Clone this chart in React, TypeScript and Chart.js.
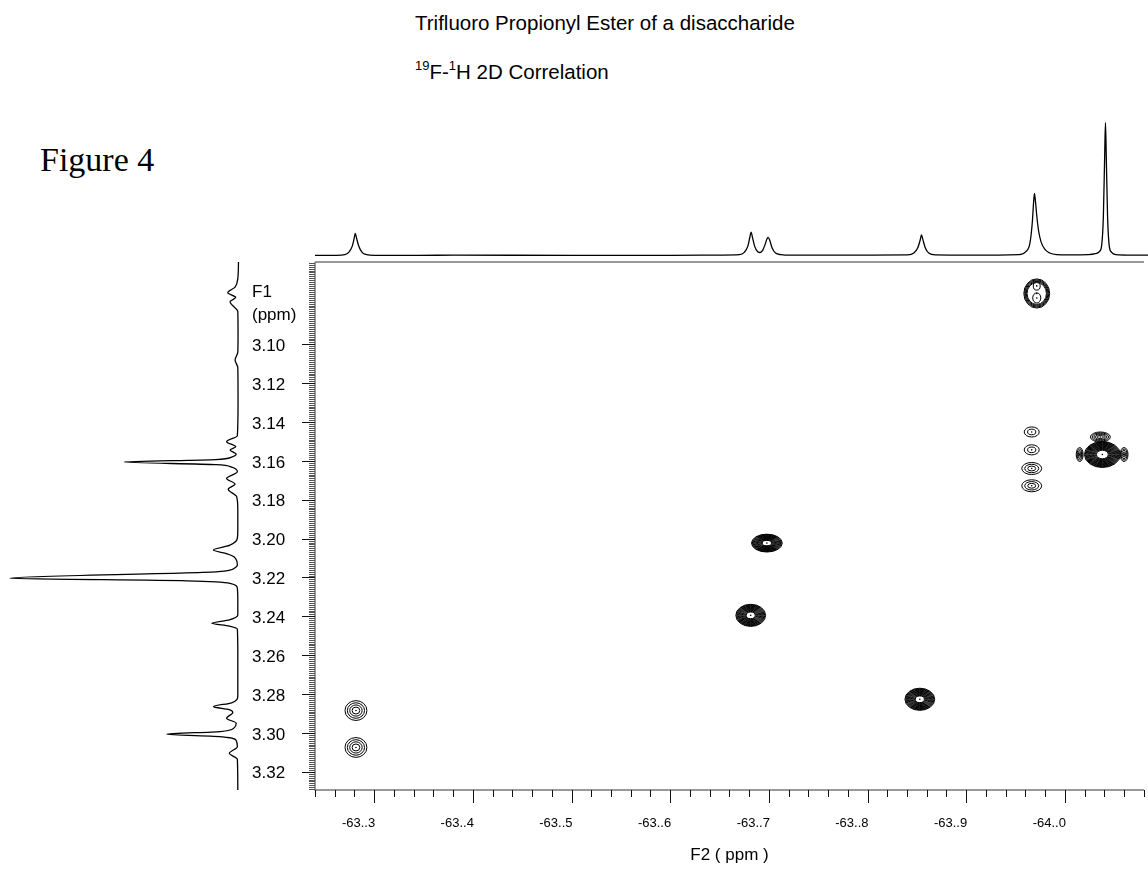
import React, { useEffect, useRef } from "react";
import { Chart, registerables } from "chart.js";

Chart.register(...registerables);

// ---------------- Text ----------------
const TITLE = "Trifluoro Propionyl Ester of a disaccharide";
const FIGURE_LABEL = "Figure 4";
const X_AXIS_TITLE = "F2 ( ppm )";
const Y_AXIS_TITLE = ["F1", "(ppm)"];

// ---------------- Axis ranges / ticks ----------------
const F2_MIN = -64.0802;
const F2_MAX = -63.24;
const F1_MIN = 3.0576;
const F1_MAX = 3.3294;

const X_MAJOR_TICKS = [-63.3, -63.4, -63.5, -63.6, -63.7, -63.8, -63.9, -64.0];
const X_TICK_LABELS = ["-63..3", "-63..4", "-63..5", "-63..6", "-63..7", "-63..8", "-63..9", "-64..0"];
const Y_MAJOR_TICKS = [3.1, 3.12, 3.14, 3.16, 3.18, 3.2, 3.22, 3.24, 3.26, 3.28, 3.3, 3.32];
const Y_TICK_LABELS = ["3.10", "3.12", "3.14", "3.16", "3.18", "3.20", "3.22", "3.24", "3.26", "3.28", "3.30", "3.32"];
const X_MINOR_STEP = 0.02;
const Y_MINOR_STEP = 0.001;

// ---------------- Top projection (F2, 19F) ----------------
const TOP_PPM = [
  -63.24, -63.262, -63.27, -63.274, -63.2775, -63.2795, -63.2806, -63.2818, -63.284, -63.2875, -63.292, -63.3,
  -63.345, -63.38, -63.5, -63.6, -63.65,
  -63.668, -63.673, -63.6765, -63.6785, -63.6799, -63.6812, -63.6835, -63.6865, -63.689, -63.6915,
  -63.694, -63.6958, -63.697, -63.6985, -63.701, -63.7045, -63.71, -63.72, -63.8,
  -63.838, -63.844, -63.848, -63.8505, -63.8517, -63.853, -63.8555, -63.859, -63.866, -63.9,
  -63.95, -63.957, -63.961, -63.9635, -63.9648, -63.9657, -63.9668, -63.968, -63.97, -63.9725, -63.9765, -63.981, -63.988, -64.0,
  -64.02, -64.027, -64.031, -64.0335, -64.0352, -64.0365, -64.0373, -64.0381, -64.0394, -64.041, -64.0435, -64.048, -64.06, -64.0802,
];
const TOP_INT = [
  0.3, 0.3, 0.8, 2.5, 7, 13, 16.8, 13.5, 7.5, 2.5, 0.8, 0.3,
  0.3, 0.4, 0.3, 0.3, 0.5,
  0.8, 2.5, 7, 13.5, 17.8, 14, 7, 3, 2.4, 4,
  8.5, 12.5, 13.8, 12, 6, 2, 0.8, 0.4, 0.5,
  0.6, 2, 6, 12, 15.6, 12.5, 6, 2, 0.6, 0.4,
  0.8, 3, 9, 25, 40, 46.9, 40, 30, 18, 10, 4.5, 2, 0.8, 0.6,
  0.8, 1.5, 3, 8, 30, 75, 100, 75, 30, 8, 2.5, 0.8, 0.5, 0.5,
];

// ---------------- Left projection (F1, 1H) ----------------
const LEFT_PPM = [
  3.0576, 3.066, 3.0705, 3.0734, 3.0758, 3.0781, 3.0832, 3.095, 3.104, 3.108, 3.112, 3.13,
  3.147, 3.1501, 3.1527, 3.1544, 3.1565, 3.158, 3.1593, 3.1606, 3.1619, 3.1632,
  3.1656, 3.169, 3.1719, 3.1746, 3.1784, 3.185, 3.195,
  3.1999, 3.2035, 3.2059, 3.2078, 3.2093, 3.2136,
  3.215, 3.217, 3.2204, 3.2217, 3.223, 3.2256, 3.232,
  3.2393, 3.2418, 3.2436, 3.245, 3.2465, 3.26,
  3.281, 3.2845, 3.2865, 3.288, 3.2895, 3.2925, 3.295, 3.2975, 3.2993, 3.3007, 3.302, 3.304,
  3.3071, 3.3105, 3.3136, 3.3294,
];
const LEFT_INT = [
  0, 0.3, 1.5, 4.7, 1.2, 3.7, 0.3, 0.2, 0.3, 1.5, 0.3, 0.2,
  0.5, 5.2, 1.2, 3.7, 1.0, 3, 10, 50, 10, 3,
  0.5, 5.2, 1.5, 4.5, 0.8, 0.3, 0.3,
  0.5, 4, 11, 5, 2, 0.5,
  1.5, 8.8, 100, 22.7, 3.7, 0.5, 0.3,
  0.3, 4, 11.7, 4, 0.5, 0.3,
  0.3, 3, 11, 4, 2.5, 5.2, 1, 2, 8, 31.4, 7, 1,
  0.5, 4, 0.5, 0.3,
];

// ---------------- Cross peaks (2D) ----------------
const PEAK_F2 = [-63.2815, -63.2815, -63.9715, -63.9715, -63.9715, -63.9664, -63.9664, -63.9664, -63.9664, -64.038, -64.036, -64.015, -64.06, -63.698, -63.6816, -63.853];
const PEAK_F1 = [3.2885, 3.3075, 3.0738, 3.0699, 3.0761, 3.1451, 3.1543, 3.1639, 3.1728, 3.1567, 3.1477, 3.1567, 3.1567, 3.2023, 3.2395, 3.2827];
const PEAK_HW_F2 = [0.0111, 0.0111, 0.0131, 0.0035, 0.0041, 0.0076, 0.0076, 0.0101, 0.0101, 0.0182, 0.0101, 0.0035, 0.004, 0.0156, 0.0151, 0.0151];
const PEAK_HW_F1 = [0.0051, 0.0051, 0.0075, 0.0022, 0.0026, 0.0026, 0.0026, 0.0031, 0.0031, 0.0067, 0.0026, 0.0036, 0.0036, 0.0046, 0.0057, 0.0057];
const PEAK_LEVELS = [4, 4, 5, 1, 1, 2, 2, 3, 3, 16, 5, 5, 5, 14, 14, 14];
const PEAK_HOLE = [0.35, 0.35, 0.75, 1, 1, 0.55, 0.55, 0.4, 0.4, 0.33, 0.3, 0.15, 0.15, 0.3, 0.3, 0.3];

const W = 1148;
const H = 869;
const PLOT = { left: 315, top: 262, right: 1148, bottom: 790 };
const SANS = "'Liberation Sans', Arial, sans-serif";

const contourPlugin = {
  id: "contours",
  afterDatasetsDraw(chart: any) {
    const { ctx, scales } = chart;
    const xs = scales.x;
    const ys = scales.y;
    const meta = chart.getDatasetMeta(0);
    ctx.save();
    ctx.strokeStyle = "#000";
    ctx.lineWidth = 1;
    meta.data.forEach((pt: any, i: number) => {
      const cx = pt.x;
      const cy = pt.y;
      const rx = Math.abs(xs.getPixelForValue(PEAK_F2[i] + PEAK_HW_F2[i]) - cx);
      const ry = Math.abs(ys.getPixelForValue(PEAK_F1[i] + PEAK_HW_F1[i]) - cy);
      const n = PEAK_LEVELS[i];
      const hole = PEAK_HOLE[i];
      for (let k = 0; k < n; k++) {
        const f = n === 1 ? 1 : 1 - ((1 - hole) * k) / (n - 1);
        ctx.beginPath();
        ctx.ellipse(cx, cy, rx * f, ry * f, 0, 0, Math.PI * 2);
        ctx.stroke();
      }
    });
    ctx.restore();
  },
};

const axesPlugin = {
  id: "nmrAxes",
  afterDraw(chart: any) {
    const { ctx, chartArea: a, scales } = chart;
    const xs = scales.x;
    const ys = scales.y;
    ctx.save();
    // frame
    ctx.strokeStyle = "#777";
    ctx.lineWidth = 1.5;
    ctx.beginPath();
    ctx.moveTo(a.left, a.top);
    ctx.lineTo(a.right, a.top);
    ctx.moveTo(a.left, a.top);
    ctx.lineTo(a.left, a.bottom);
    ctx.lineTo(a.right, a.bottom);
    ctx.stroke();

    // x ticks
    ctx.strokeStyle = "#111";
    ctx.lineWidth = 1;
    const nx = Math.round((F2_MAX - F2_MIN) / X_MINOR_STEP);
    ctx.beginPath();
    for (let k = 0; k <= nx; k++) {
      const v = F2_MAX - k * X_MINOR_STEP;
      const px = Math.round(xs.getPixelForValue(v)) + 0.5;
      ctx.moveTo(px, a.bottom);
      ctx.lineTo(px, a.bottom + 7);
    }
    X_MAJOR_TICKS.forEach((v) => {
      const px = Math.round(xs.getPixelForValue(v)) + 0.5;
      ctx.moveTo(px, a.bottom);
      ctx.lineTo(px, a.bottom + 13);
    });
    ctx.stroke();

    // y ticks (dense minor hatch + major)
    ctx.strokeStyle = "#555";
    ctx.beginPath();
    const y0 = Math.ceil(F1_MIN / Y_MINOR_STEP) * Y_MINOR_STEP;
    const ny = Math.floor((F1_MAX - y0) / Y_MINOR_STEP);
    for (let k = 0; k <= ny; k++) {
      const v = y0 + k * Y_MINOR_STEP;
      const py = Math.round(ys.getPixelForValue(v)) + 0.5;
      ctx.moveTo(a.left, py);
      ctx.lineTo(a.left - 6, py);
    }
    ctx.stroke();
    ctx.strokeStyle = "#111";
    ctx.beginPath();
    Y_MAJOR_TICKS.forEach((v) => {
      const py = Math.round(ys.getPixelForValue(v)) + 0.5;
      ctx.moveTo(a.left, py);
      ctx.lineTo(a.left - 13, py);
    });
    ctx.stroke();

    // labels
    ctx.fillStyle = "#000";
    ctx.font = `13px ${SANS}`;
    ctx.textAlign = "right";
    ctx.textBaseline = "middle";
    X_MAJOR_TICKS.forEach((v, i) => {
      const px = xs.getPixelForValue(v);
      ctx.fillText(X_TICK_LABELS[i], px + 1, a.bottom + 33);
    });
    ctx.font = `17px ${SANS}`;
    ctx.textAlign = "center";
    ctx.fillText(X_AXIS_TITLE, (a.left + a.right) / 2, a.bottom + 65);

    ctx.textAlign = "left";
    Y_MAJOR_TICKS.forEach((v, i) => {
      const py = ys.getPixelForValue(v);
      ctx.fillText(Y_TICK_LABELS[i], 252, py + 2);
    });
    ctx.fillText(Y_AXIS_TITLE[0], 252, 292);
    ctx.fillText(Y_AXIS_TITLE[1], 252, 315);
    ctx.restore();
  },
};

export default function App() {
  const mainRef = useRef<HTMLCanvasElement>(null);
  const topRef = useRef<HTMLCanvasElement>(null);
  const leftRef = useRef<HTMLCanvasElement>(null);

  useEffect(() => {
    const charts: Chart[] = [];
    const common = {
      responsive: false,
      animation: false as const,
      devicePixelRatio: 1,
      plugins: { legend: { display: false }, tooltip: { enabled: false } },
      events: [] as any[],
    };

    charts.push(
      new Chart(mainRef.current!, {
        type: "scatter",
        data: {
          datasets: [
            {
              data: PEAK_F2.map((x, i) => ({ x, y: PEAK_F1[i] })),
              pointRadius: 0.8,
              pointBorderWidth: 0,
              pointBackgroundColor: "#000",
              borderColor: "#000",
            },
          ],
        },
        options: {
          ...common,
          layout: { padding: { left: PLOT.left, top: PLOT.top, right: W - PLOT.right, bottom: H - PLOT.bottom } },
          scales: {
            x: { type: "linear", min: F2_MIN, max: F2_MAX, reverse: true, display: false },
            y: { type: "linear", min: F1_MIN, max: F1_MAX, reverse: true, display: false },
          },
        } as any,
        plugins: [contourPlugin, axesPlugin],
      })
    );

    charts.push(
      new Chart(topRef.current!, {
        type: "line",
        data: {
          datasets: [
            {
              data: TOP_PPM.map((x, i) => ({ x, y: TOP_INT[i] })),
              borderColor: "#000",
              borderWidth: 1.3,
              pointRadius: 0,
              cubicInterpolationMode: "monotone",
              clip: false,
            } as any,
          ],
        },
        options: {
          ...common,
          layout: { padding: { left: PLOT.left, right: W - PLOT.right, top: 122.7, bottom: H - 255.7 } },
          scales: {
            x: { type: "linear", min: F2_MIN, max: F2_MAX, reverse: true, display: false },
            y: { type: "linear", min: 0, max: 100, display: false },
          },
        } as any,
      })
    );

    charts.push(
      new Chart(leftRef.current!, {
        type: "line",
        data: {
          datasets: [
            {
              data: LEFT_PPM.map((y, i) => ({ x: LEFT_INT[i], y })),
              borderColor: "#000",
              borderWidth: 1.3,
              pointRadius: 0,
              cubicInterpolationMode: "monotone",
              clip: false,
            } as any,
          ],
        },
        options: {
          ...common,
          indexAxis: "y",
          layout: { padding: { left: 10, right: W - 238.5, top: PLOT.top, bottom: H - PLOT.bottom } },
          scales: {
            x: { type: "linear", min: 0, max: 100, reverse: true, display: false },
            y: { type: "linear", min: F1_MIN, max: F1_MAX, reverse: true, display: false },
          },
        } as any,
      })
    );

    return () => charts.forEach((c) => c.destroy());
  }, []);

  const canvasStyle: React.CSSProperties = { position: "absolute", left: 0, top: 0, width: W, height: H };
  const supStyle: React.CSSProperties = { fontSize: 13, verticalAlign: "top", lineHeight: 0, position: "relative", top: 4 };
  const titleStyle: React.CSSProperties = { position: "absolute", left: 415, fontFamily: SANS, fontSize: 20.5, lineHeight: "20px", whiteSpace: "nowrap", color: "#000" };

  return (
    <div style={{ position: "absolute", left: 0, top: 0, width: W, height: H, background: "#fff", overflow: "hidden" }}>
      <div style={{ ...titleStyle, top: 13 }}>{TITLE}</div>
      <div style={{ ...titleStyle, top: 62 }}>
        <sup style={supStyle}>19</sup>F-<sup style={supStyle}>1</sup>H 2D Correlation
      </div>
      <div style={{ position: "absolute", left: 40, top: 143, fontFamily: "'Liberation Serif', 'Times New Roman', serif", fontSize: 34, lineHeight: "34px", whiteSpace: "nowrap", color: "#000" }}>
        {FIGURE_LABEL}
      </div>
      <canvas ref={mainRef} width={W} height={H} style={canvasStyle} />
      <canvas ref={topRef} width={W} height={H} style={canvasStyle} />
      <canvas ref={leftRef} width={W} height={H} style={canvasStyle} />
    </div>
  );
}
